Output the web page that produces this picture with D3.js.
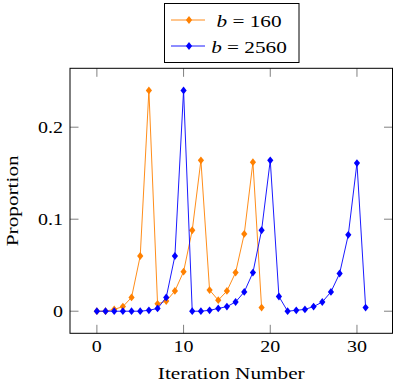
<!DOCTYPE html>
<html><head><meta charset="utf-8">
<script src="https://cdn.jsdelivr.net/npm/d3@7"></script>
<style>body{margin:0;background:#fff}svg{display:block}</style>
</head><body>
<script>
const iterA = d3.range(0, 20);
const valuesA = [0, 0, 0.002, 0.005, 0.015, 0.060, 0.240, 0.008, 0.011, 0.022, 0.043, 0.088, 0.164, 0.023, 0.012, 0.022, 0.042, 0.084, 0.162, 0.004];
const iterB = d3.range(0, 32);
const valuesB = [0, 0, 0, 0, 0, 0, 0.001, 0.003, 0.015, 0.060, 0.240, 0, 0, 0.001, 0.003, 0.005, 0.010, 0.021, 0.042, 0.088, 0.164, 0.016, 0, 0.001, 0.002, 0.005, 0.010, 0.021, 0.041, 0.083, 0.161, 0.004];
const seriesNames = ["160", "2560"];
const seriesColors = ["#ff8000", "#0000ff"];
const xTicks = [0, 10, 20, 30];
const yTicks = [0, 0.1, 0.2];
const yTickLabels = ["0", "0.1", "0.2"];

const W = 397, H = 388;
const svg = d3.select("body").append("svg").attr("width", W).attr("height", H);
const L = 70, R = 392.5, T = 68.3, B = 333.3;
const x = d3.scaleLinear().domain([-3.1, 34.1]).range([L, R]);
const y = d3.scaleLinear().domain([-0.024, 0.264]).range([B, T]);
const FONT = "'Liberation Serif', 'Times New Roman', serif";
const SX = 1.25;

function label(sel, tx, ty, str, anchor, size) {
  return sel.append("text")
    .attr("transform", `translate(${tx},${ty}) scale(${SX},1)`)
    .attr("text-anchor", anchor)
    .attr("font-family", FONT)
    .attr("font-size", size)
    .attr("fill", "#000")
    .text(str);
}

// ticks (inside, all four sides)
const tickLen = 8.5;
const tg = svg.append("g").attr("stroke", "#808080").attr("stroke-width", 1);
xTicks.forEach(t => {
  tg.append("line").attr("x1", x(t)).attr("x2", x(t)).attr("y1", B).attr("y2", B - tickLen);
  tg.append("line").attr("x1", x(t)).attr("x2", x(t)).attr("y1", T).attr("y2", T + tickLen);
});
yTicks.forEach(t => {
  tg.append("line").attr("y1", y(t)).attr("y2", y(t)).attr("x1", L).attr("x2", L + tickLen);
  tg.append("line").attr("y1", y(t)).attr("y2", y(t)).attr("x1", R).attr("x2", R - tickLen);
});

// tick labels
xTicks.forEach(t => label(svg, x(t), 352, String(t), "middle", 16));
yTicks.forEach((t, i) => label(svg, 63, y(t) + 6, yTickLabels[i], "end", 16));

// axis titles
label(svg, (L + R) / 2, 379, "Iteration Number", "middle", 17);
svg.append("text")
  .attr("transform", `translate(18,${(T + B) / 2}) rotate(-90) scale(${SX},1)`)
  .attr("text-anchor", "middle")
  .attr("font-family", FONT).attr("font-size", 17)
  .text("Proportion");

// data
const plot = svg.append("g");
const diamond = "M0,-3.9L3.1,0L0,3.9L-3.1,0Z";
const allSeries = [[iterA, valuesA], [iterB, valuesB]];
allSeries.forEach(([xs, vs], si) => {
  const pts = xs.map((d, i) => [d, vs[i]]);
  const line = d3.line().x(d => x(d[0])).y(d => y(d[1]));
  plot.append("path").attr("d", line(pts)).attr("fill", "none")
    .attr("stroke", seriesColors[si]).attr("stroke-width", 0.9);
  plot.selectAll(null).data(pts).enter().append("path")
    .attr("d", diamond)
    .attr("transform", d => `translate(${x(d[0])},${y(d[1])})`)
    .attr("fill", seriesColors[si]);
});

// frame
svg.append("rect").attr("x", L).attr("y", T).attr("width", R - L).attr("height", B - T)
  .attr("fill", "none").attr("stroke", "#000").attr("stroke-width", 1);

// legend
const lg = svg.append("g");
lg.append("rect").attr("x", 164.5).attr("y", 3.5).attr("width", 134.5).attr("height", 59)
  .attr("fill", "#fff").attr("stroke", "#000").attr("stroke-width", 1);
const rowsY = [20, 46];
seriesNames.forEach((nm, i) => {
  const ry = rowsY[i];
  lg.append("line").attr("x1", 171).attr("x2", 205).attr("y1", ry).attr("y2", ry)
    .attr("stroke", seriesColors[i]).attr("stroke-width", 0.9);
  lg.append("path").attr("d", diamond).attr("transform", `translate(189,${ry})`)
    .attr("fill", seriesColors[i]);
  const t = lg.append("text")
    .attr("transform", `translate(249,${ry + 6.5}) scale(${SX},1)`)
    .attr("text-anchor", "middle")
    .attr("font-family", FONT).attr("font-size", 17);
  t.append("tspan").attr("font-style", "italic").text("b");
  t.append("tspan").text(" = " + nm);
});
</script>
</body></html>
